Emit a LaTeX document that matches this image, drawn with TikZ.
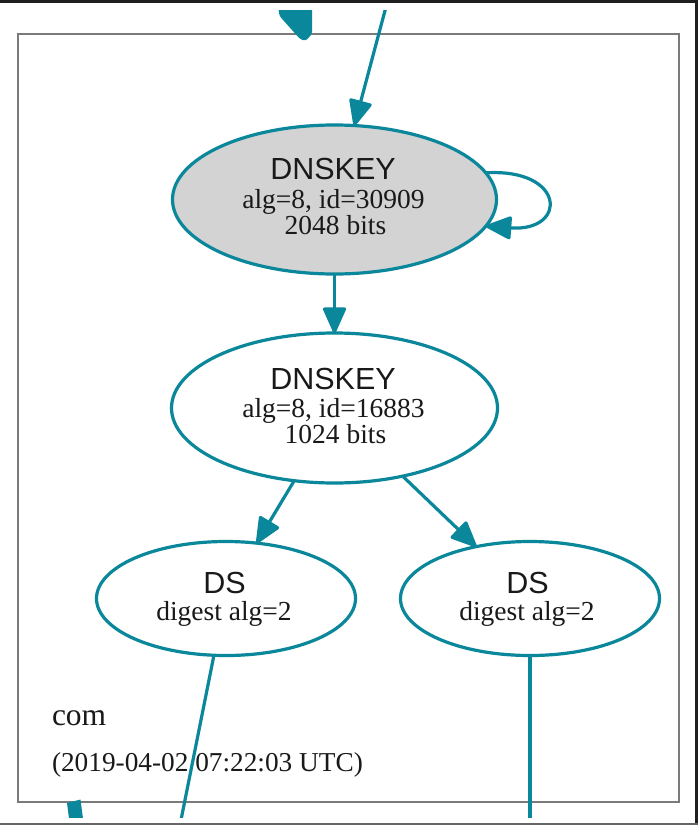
\documentclass[tikz,border=0pt]{standalone}
\usepackage{fontspec}
\setmainfont{Liberation Serif}
\newfontfamily\keyfont{Liberation Sans}
\usetikzlibrary{arrows.meta,shapes.geometric}
\definecolor{dnsteal}{HTML}{0A879A}
\definecolor{keygray}{HTML}{D3D3D3}
\definecolor{zoneline}{HTML}{7A7A7A}

\begin{document}
\begin{tikzpicture}[x=1pt,y=-1pt,
  every node/.style={inner sep=0pt, outer sep=0pt},
  rec/.style={ellipse, draw=dnsteal, line width=3.2pt, fill=white},
  sepkey/.style={rec, fill=keygray},
  dnskeybox/.style={minimum width=326pt, minimum height=150pt},
  dsbox/.style={minimum width=259pt, minimum height=114pt},
  keyhead/.style={anchor=base, font=\keyfont\fontsize{30.5}{34}\selectfont, text=black!90},
  keyinfo/.style={anchor=base, font=\fontsize{27.5}{30}\selectfont, text=black!90},
  link/.style={draw=dnsteal, line width=3.2pt, -{Triangle[length=28pt,width=24pt,round]}},
  plainlink/.style={draw=dnsteal, line width=3.2pt},
]
\useasboundingbox (0,0) rectangle (698,825);

% window frame
\fill[white] (0,0) rectangle (698,825);
\fill[black!88] (0,0) rectangle (698,3);
\fill[black!88] (695,0) rectangle (698,825);
\fill[black!60] (0,823) rectangle (698,825);

% zone cluster
\node[draw=zoneline, line width=2.2pt, minimum width=661pt, minimum height=767.7pt] (zone) at (348.5,417.85) {};
\node[anchor=base west, font=\fontsize{31.5}{34}\selectfont, text=black!90] (zname) at (52,725) {com};
\node[anchor=base west, font=\fontsize{27.3}{30}\selectfont, text=black!90] (zstamp) at (52,771.7) {(2019-04-02 07:22:03 UTC)};

% keys
\node[sepkey, dnskeybox, minimum width=324pt, minimum height=149pt] (k1) at (334.5,199.5) {};
\node[keyhead] (k1h) at (333,179.5) {DNSKEY};
\node[keyinfo] (k1a) at (333.5,208.5) {alg=8, id=30909};
\node[keyinfo] (k1b) at (335.5,234) {2048 bits};

\node[rec, dnskeybox] (k2) at (334.5,408) {};
\node[keyhead] (k2h) at (333,389) {DNSKEY};
\node[keyinfo] (k2a) at (333.5,417) {alg=8, id=16883};
\node[keyinfo] (k2b) at (335.5,443) {1024 bits};

% delegation signer records
\node[rec, dsbox] (dsL) at (226,598.5) {};
\node[keyhead] (dsLh) at (224.5,593) {DS};
\node[keyinfo] (dsLa) at (224,620) {digest alg=2};

\node[rec, dsbox] (dsR) at (530,598.5) {};
\node[keyhead] (dsRh) at (527.5,593) {DS};
\node[keyinfo] (dsRa) at (527,620) {digest alg=2};

% connectors
\begin{scope}
  \clip (0,10) rectangle (698,817);
  \coordinate (inTop) at (390.5,-10);
  \coordinate (outL) at (177,840);
  \coordinate (outR) at (530,840);
  \draw[link] (inTop) -- (k1.75);
  \draw[link] (k1.10) .. controls (566,168) and (568,232) .. (k1.350);
  \draw[link] (k1.south) -- (k2.north);
  \draw[link] (k2.241) -- (dsL.61);
  \draw[link] (k2.315) -- (dsR.136);
  \draw[plainlink] (dsL.258) -- (outL);
  \draw[plainlink] (dsR.south) -- (outR);
  % ends of heavier edges passing the zone
  \fill[dnsteal, rounded corners=2.5pt] (277,0) -- (312,0) -- (312,34) -- (305.5,41) -- (300,39) -- (279.5,16) -- cycle;
  \fill[dnsteal] (67,803) -- (80.5,799.5) -- (84.5,830) -- (70.5,830) -- cycle;
\end{scope}
\end{tikzpicture}
\end{document}
